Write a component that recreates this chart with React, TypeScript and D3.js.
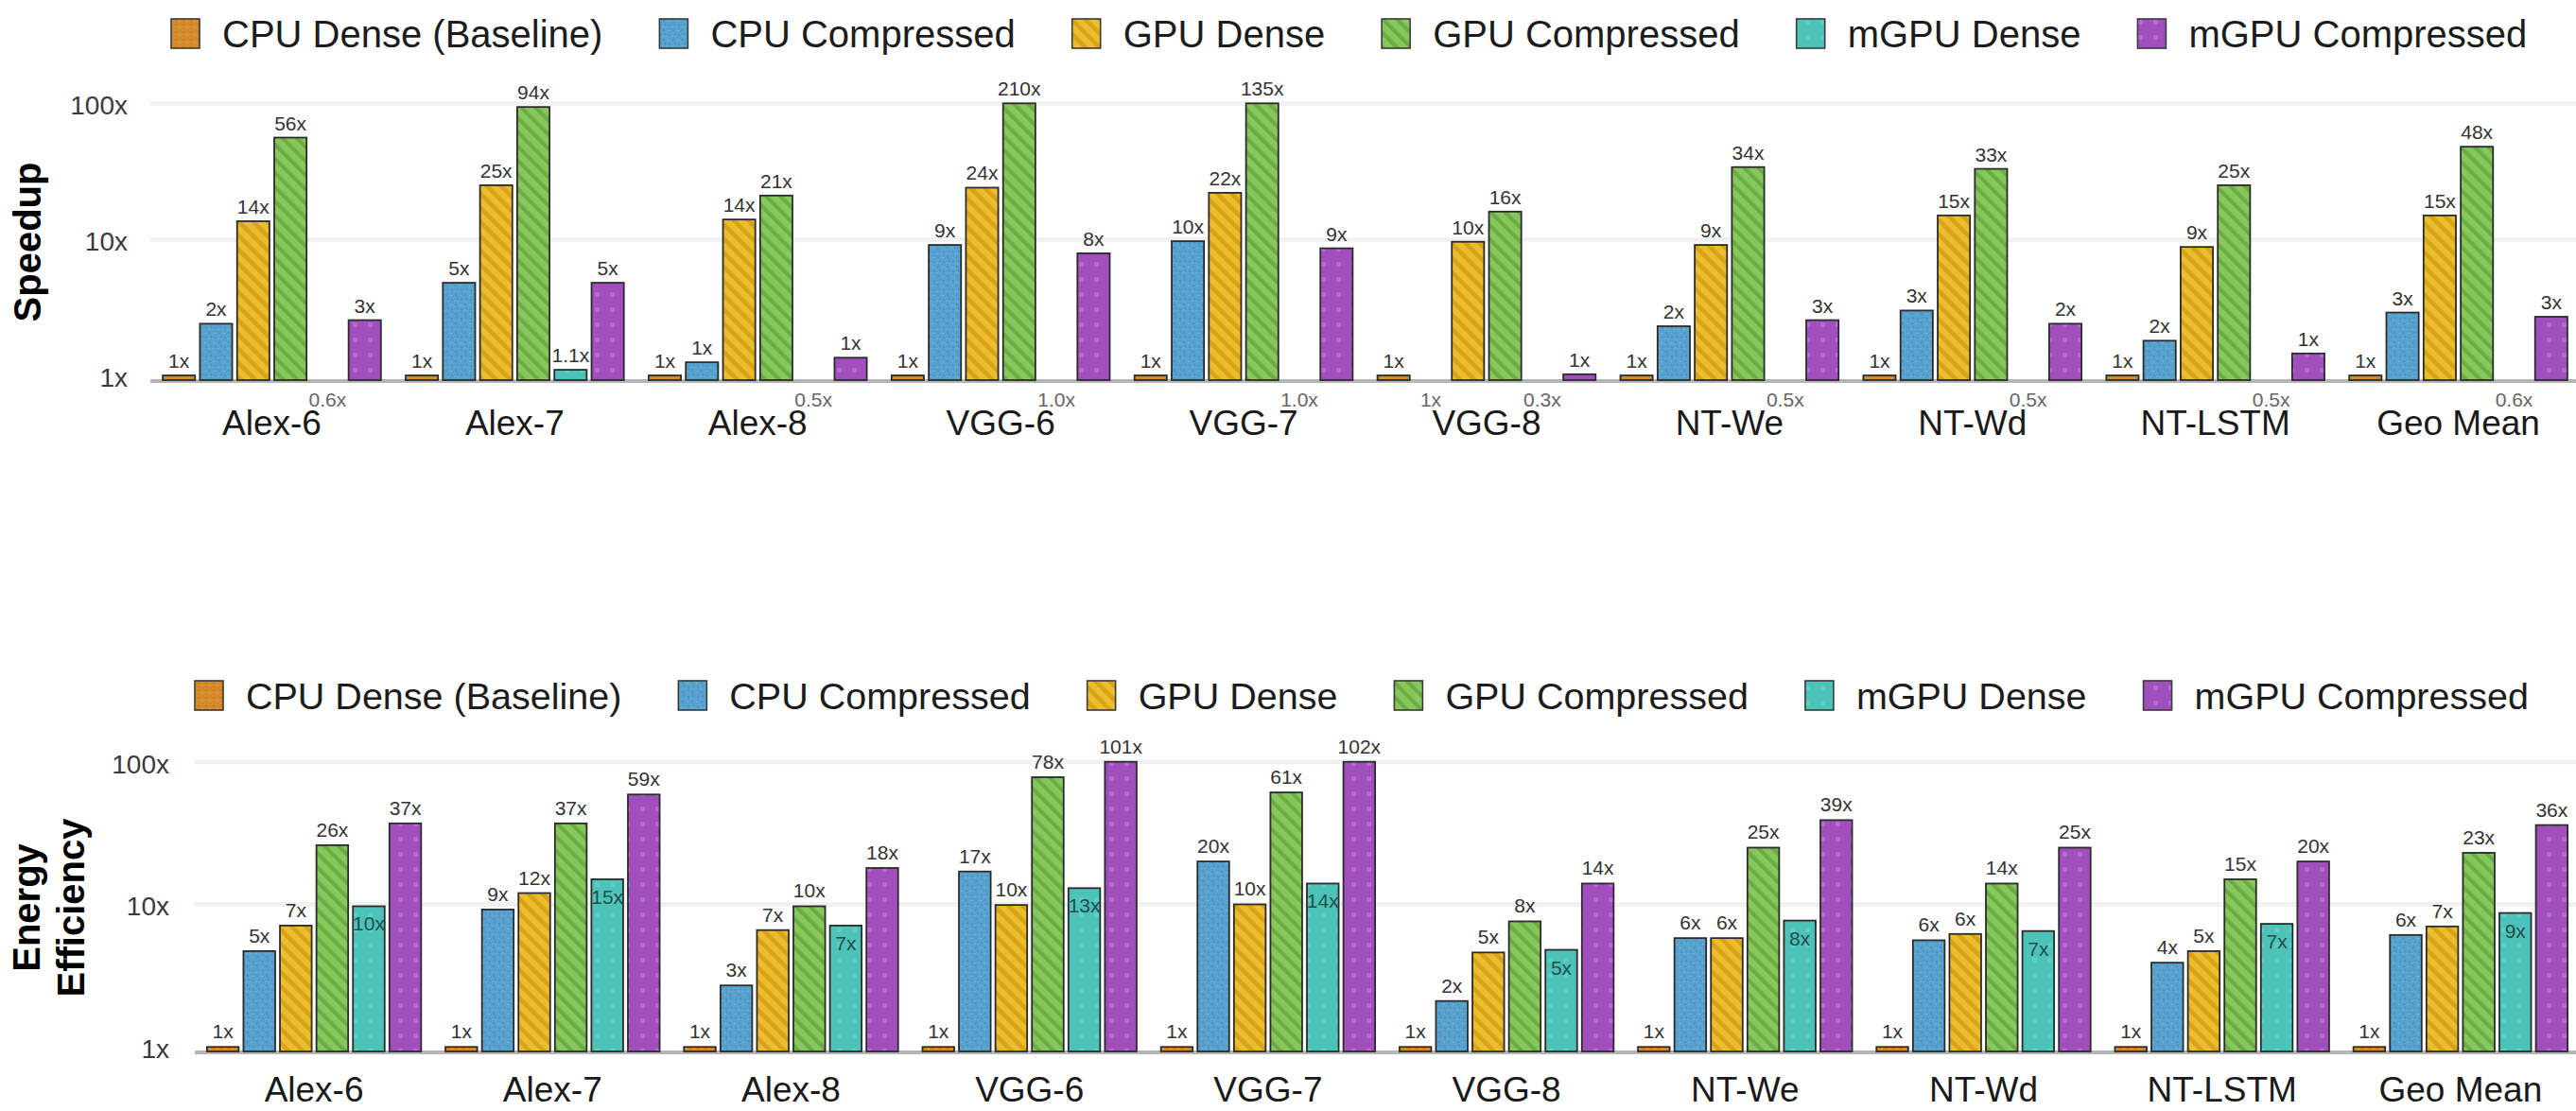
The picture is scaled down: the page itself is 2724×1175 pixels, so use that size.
import React, { useMemo } from "react";
import * as d3 from "d3";

// Benchmarks on the x axis
const categories = ["Alex-6", "Alex-7", "Alex-8", "VGG-6", "VGG-7", "VGG-8", "NT-We", "NT-Wd", "NT-LSTM", "Geo Mean"];

// Platform / format combinations
const seriesNames = [
  "CPU Dense (Baseline)",
  "CPU Compressed",
  "GPU Dense",
  "GPU Compressed",
  "mGPU Dense",
  "mGPU Compressed",
];

// Speedup relative to the dense CPU baseline
const speedupCpuDense = [1, 1, 1, 1, 1, 1, 1, 1, 1, 1];
const speedupCpuCompressed = [2.4, 4.8, 1.25, 9.1, 9.7, 1.0, 2.3, 3.0, 1.8, 2.9];
const speedupGpuDense = [13.6, 25, 14, 24, 22, 9.6, 9.1, 15, 8.8, 15];
const speedupGpuCompressed = [56, 94, 21, 210, 135, 16, 34, 33, 25, 48];
const speedupMgpuDense = [0.6, 1.1, 0.5, 0.98, 0.98, 0.3, 0.5, 0.5, 0.5, 0.6];
const speedupMgpuCompressed = [2.55, 4.8, 1.35, 7.9, 8.6, 1.02, 2.55, 2.4, 1.45, 2.7];

// Energy efficiency relative to the dense CPU baseline
const energyCpuDense = [1, 1, 1, 1, 1, 1, 1, 1, 1, 1];
const energyCpuCompressed = [4.7, 9.2, 2.7, 17, 20, 2.1, 5.8, 5.6, 3.9, 6.1];
const energyGpuDense = [7.1, 12, 6.6, 9.9, 10, 4.6, 5.8, 6.2, 4.7, 7.0];
const energyGpuCompressed = [26, 37, 9.7, 78, 61, 7.6, 25, 14, 15, 23];
const energyMgpuDense = [9.7, 15, 7.1, 13, 14, 4.8, 7.7, 6.5, 7.3, 8.7];
const energyMgpuCompressed = [37, 59, 18, 101, 102, 14, 39, 25, 20, 36];

// Axis ticks
const yTicks = [1, 10, 100];
const gridTicks = [10, 100];

const speedupSeries = [
  speedupCpuDense,
  speedupCpuCompressed,
  speedupGpuDense,
  speedupGpuCompressed,
  speedupMgpuDense,
  speedupMgpuCompressed,
];
const energySeries = [
  energyCpuDense,
  energyCpuCompressed,
  energyGpuDense,
  energyGpuCompressed,
  energyMgpuDense,
  energyMgpuCompressed,
];

const WIDTH = 2724;
const HEIGHT = 1175;
const FONT = '"Liberation Sans", Arial, Helvetica, sans-serif';

// Sub-unity values and values just above 1 keep one decimal; the rest are whole multiples
const fmtX = (v: number) =>
  (v < 1 || (v > 1.05 && v < 1.15) ? v.toFixed(1) : String(Math.round(v))) + "x";

const tickFmt = (v: number) => `${v}x`;

function measure(text: string, font: string): number {
  const ctx = document.createElement("canvas").getContext("2d");
  if (!ctx) return text.length * 20;
  ctx.font = font;
  return ctx.measureText(text).width;
}

function Patterns() {
  return (
    <defs>
      <pattern id="fill-0" width="8" height="8" patternUnits="userSpaceOnUse">
        <rect width="8" height="8" fill="#D58A2B" />
        <rect x="1" y="1" width="2" height="2" fill="#C47A20" />
        <rect x="5" y="4" width="2" height="2" fill="#E29B3E" />
        <rect x="2" y="6" width="1" height="1" fill="#BD741E" />
      </pattern>
      <pattern id="fill-1" width="10" height="10" patternUnits="userSpaceOnUse">
        <rect width="10" height="10" fill="#58A3CE" />
        <rect x="1" y="1" width="2" height="2" fill="#4B93C0" />
        <rect x="6" y="2" width="2" height="1" fill="#6DB3DB" />
        <rect x="3" y="5" width="1" height="2" fill="#4A8FBB" />
        <rect x="7" y="6" width="2" height="2" fill="#4D96C3" />
        <rect x="0" y="8" width="2" height="1" fill="#6AB0D8" />
        <rect x="4" y="8" width="1" height="1" fill="#6FB5DC" />
        <rect x="8" y="0" width="1" height="1" fill="#4790BD" />
      </pattern>
      <pattern
        id="fill-2"
        width="10.6"
        height="10.6"
        patternUnits="userSpaceOnUse"
        patternTransform="rotate(-45)"
      >
        <rect width="10.6" height="10.6" fill="#EABF2D" />
        <rect width="4.6" height="10.6" fill="#DBA219" />
      </pattern>
      <pattern
        id="fill-3"
        width="10.6"
        height="10.6"
        patternUnits="userSpaceOnUse"
        patternTransform="rotate(-45)"
      >
        <rect width="10.6" height="10.6" fill="#86C85A" />
        <rect width="4.2" height="10.6" fill="#6DAB47" />
      </pattern>
      <pattern id="fill-4" width="16" height="16" patternUnits="userSpaceOnUse">
        <rect width="16" height="16" fill="#4DC2B8" />
        <rect x="5" y="5" width="5" height="5" fill="#5ACFC4" />
      </pattern>
      <pattern id="fill-5" width="16" height="16" patternUnits="userSpaceOnUse">
        <rect width="16" height="16" fill="#A24FBE" />
        <rect x="5" y="5" width="5" height="5" fill="#B66BD1" />
      </pattern>
    </defs>
  );
}

type PanelConfig = {
  series: number[][];
  left: number;
  right: number;
  topY: number;
  axisY: number;
  floor: number;
  tickRight: number;
  catBaseline: number;
  titleLines: string[];
  titleX: number[];
  titleY: number;
  legendX: number;
  legendY: number;
  legendFont: number;
  labelGap: number;
  insideSeries: number | null;
};

function Legend({ x, y, size }: { x: number; y: number; size: number }) {
  const font = `${size}px ${FONT}`;
  const items = useMemo(() => {
    let cursor = x;
    return seriesNames.map((name, i) => {
      const keyX = cursor;
      const textX = keyX + 30 + 24;
      const w = measure(name, font);
      cursor = textX + w + 60;
      return { name, i, keyX, textX };
    });
  }, [x, font]);
  return (
    <g>
      {items.map((it) => (
        <g key={it.name}>
          <rect
            x={it.keyX}
            y={y}
            width={30}
            height={31}
            fill={`url(#fill-${it.i})`}
            stroke="#3a3a3a"
            strokeWidth={1.6}
          />
          <text x={it.textX} y={y + 30} fontFamily={FONT} fontSize={size} fill="#1c1c1c">
            {it.name}
          </text>
        </g>
      ))}
    </g>
  );
}

function Panel({ cfg }: { cfg: PanelConfig }) {
  const x0 = d3
    .scaleBand<string>()
    .domain(categories)
    .range([cfg.left, cfg.right])
    .paddingInner(0)
    .paddingOuter(0);
  const unit = x0.bandwidth();
  const slot = unit * 0.153;
  const barW = unit * 0.133;
  const y = d3
    .scaleLog()
    .domain([cfg.floor, 100])
    .range([cfg.axisY, cfg.topY])
    .clamp(true);

  const bars: React.ReactNode[] = [];
  const labels: React.ReactNode[] = [];

  categories.forEach((cat, ci) => {
    const center = (x0(cat) as number) + unit / 2;
    cfg.series.forEach((vals, si) => {
      const v = vals[ci];
      const cx = center + (si - 2.5) * slot;
      // the baseline series is always shown; others only when they beat it
      const hasBar = si === 0 || v > 1;
      if (hasBar) {
        const top = y(v);
        bars.push(
          <rect
            key={`b-${ci}-${si}`}
            x={cx - barW / 2}
            y={top}
            width={barW}
            height={cfg.axisY - top}
            fill={`url(#fill-${si})`}
            stroke="#2b2b2b"
            strokeWidth={1.8}
          />
        );
        const inside = cfg.insideSeries === si;
        labels.push(
          <text
            key={`l-${ci}-${si}`}
            x={cx}
            y={inside ? top + 26 : top - cfg.labelGap}
            textAnchor="middle"
            fontFamily={FONT}
            fontSize={21}
            fill={inside ? "#1f4f4b" : "#333333"}
          >
            {fmtX(v)}
          </text>
        );
      } else {
        labels.push(
          <text
            key={`l-${ci}-${si}`}
            x={cx}
            y={cfg.axisY + 28}
            textAnchor="middle"
            fontFamily={FONT}
            fontSize={21}
            fill="#666666"
          >
            {fmtX(v)}
          </text>
        );
      }
    });
  });

  return (
    <g>
      {gridTicks.map((t) => (
        <line
          key={`g-${t}`}
          x1={cfg.left}
          x2={WIDTH}
          y1={y(t)}
          y2={y(t)}
          stroke="#F1F1F1"
          strokeWidth={5}
        />
      ))}
      <line
        x1={cfg.left}
        x2={WIDTH}
        y1={cfg.axisY + 1}
        y2={cfg.axisY + 1}
        stroke="#B5B5B5"
        strokeWidth={4}
      />
      {yTicks.map((t) => (
        <text
          key={`t-${t}`}
          x={cfg.tickRight}
          y={y(t) + 12}
          textAnchor="end"
          fontFamily={FONT}
          fontSize={28}
          fill="#3a3a3a"
        >
          {tickFmt(t)}
        </text>
      ))}
      {bars}
      {labels}
      {categories.map((cat) => (
        <text
          key={`c-${cat}`}
          x={(x0(cat) as number) + unit / 2}
          y={cfg.catBaseline}
          textAnchor="middle"
          fontFamily={FONT}
          fontSize={37}
          fill="#1a1a1a"
        >
          {cat}
        </text>
      ))}
      {cfg.titleLines.map((line, i) => (
        <text
          key={`ti-${i}`}
          transform={`translate(${cfg.titleX[i]},${cfg.titleY}) rotate(-90)`}
          textAnchor="middle"
          fontFamily={FONT}
          fontWeight="bold"
          fontSize={40}
          fill="#000000"
        >
          {line}
        </text>
      ))}
      <Legend x={cfg.legendX} y={cfg.legendY} size={cfg.legendFont} />
    </g>
  );
}

const speedupPanel: PanelConfig = {
  series: speedupSeries,
  left: 159,
  right: 2728,
  topY: 109.3,
  axisY: 402,
  floor: 0.924,
  tickRight: 135,
  catBaseline: 460,
  titleLines: ["Speedup"],
  titleX: [43],
  titleY: 256,
  legendX: 181,
  legendY: 20,
  legendFont: 40,
  labelGap: 8,
  insideSeries: null,
};

const energyPanel: PanelConfig = {
  series: energySeries,
  left: 206,
  right: 2728,
  topY: 805.7,
  axisY: 1112,
  floor: 0.93,
  tickRight: 179,
  catBaseline: 1165,
  titleLines: ["Energy", "Efficiency"],
  titleX: [42, 89],
  titleY: 960,
  legendX: 206,
  legendY: 720,
  legendFont: 39.5,
  labelGap: 9,
  insideSeries: 4,
};

export default function App() {
  return (
    <svg
      width={WIDTH}
      height={HEIGHT}
      viewBox={`0 0 ${WIDTH} ${HEIGHT}`}
      style={{ position: "absolute", left: 0, top: 0, background: "#ffffff" }}
    >
      <Patterns />
      <rect width={WIDTH} height={HEIGHT} fill="#ffffff" />
      <Panel cfg={speedupPanel} />
      <Panel cfg={energyPanel} />
    </svg>
  );
}
